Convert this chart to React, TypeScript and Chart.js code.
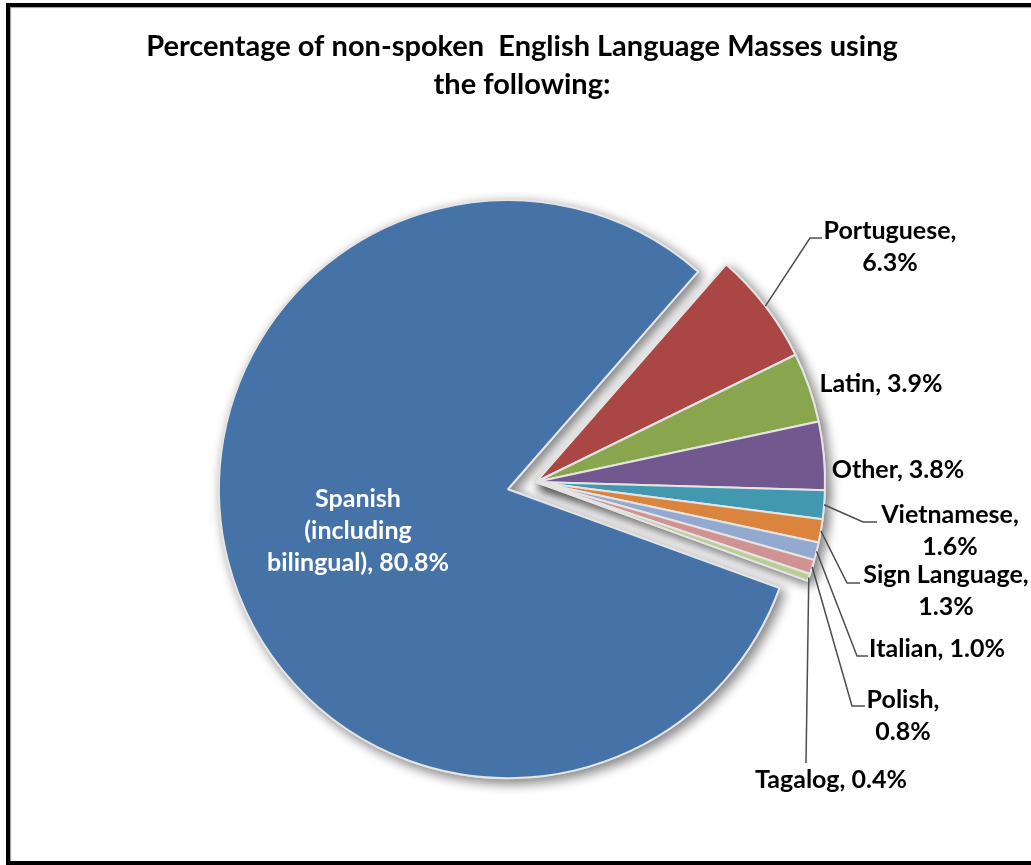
import React, { useEffect, useRef } from "react";
import { Chart, registerables } from "chart.js";

Chart.register(...registerables);

// Shares of each language (percent)
const categories = [
  "Spanish (including bilingual)",
  "Portuguese",
  "Latin",
  "Other",
  "Vietnamese",
  "Sign Language",
  "Italian",
  "Polish",
  "Tagalog",
];
const shares = [80.8, 6.3, 3.9, 3.8, 1.6, 1.3, 1.0, 0.8, 0.4];
const sliceColors = [
  "#4572A7",
  "#AA4643",
  "#89A54E",
  "#71588F",
  "#4198AF",
  "#DB843D",
  "#93A9CF",
  "#D19392",
  "#B9CD96",
];
const titleLines = [
  "Percentage of non-spoken  English Language Masses using",
  "the following:",
];

const W = 1031;
const H = 865;
const FONT = "Lato, 'Open Sans', sans-serif";

// Label placement: words per line, text centre x, first baseline y,
// optional leader elbow and end point.
type LabelLayout = {
  words: number[];
  x: number;
  y: number;
  color: string;
  leader?: [number, number, number, number];
};
const labelLayout: LabelLayout[] = [
  { words: [1, 1, 2], x: 358, y: 507, color: "#ffffff" },
  { words: [1, 1], x: 890, y: 239, color: "#000", leader: [810, 238, 822, 238] },
  { words: [2], x: 881, y: 392, color: "#000" },
  { words: [2], x: 898, y: 478, color: "#000" },
  { words: [1, 1], x: 950, y: 523, color: "#000", leader: [863, 522, 877, 522] },
  { words: [2, 1], x: 946, y: 583, color: "#000", leader: [847, 583, 860, 583] },
  { words: [2], x: 937, y: 657, color: "#000", leader: [857, 656, 868, 656] },
  { words: [1, 1], x: 903, y: 708, color: "#000", leader: [852, 706, 865, 706] },
  { words: [2], x: 831, y: 788, color: "#000", leader: [806, 763, 806, 763] },
];

function labelLines(i: number): string[] {
  const words = `${categories[i]}, ${shares[i].toFixed(1)}%`.split(" ");
  const out: string[] = [];
  let k = 0;
  for (const n of labelLayout[i].words) {
    out.push(words.slice(k, k + n).join(" "));
    k += n;
  }
  if (k < words.length) out[out.length - 1] += " " + words.slice(k).join(" ");
  return out;
}

// Pull slices out along their bisector without enlarging them
const explodePlugin = {
  id: "explode",
  afterDatasetUpdate(chart: any, args: any, opts: any) {
    const dist: number[] = opts.distances || [];
    chart.getDatasetMeta(args.index).data.forEach((arc: any, i: number) => {
      const d = dist[i] || 0;
      if (!d) return;
      const mid = (arc.startAngle + arc.endAngle) / 2;
      arc.x += Math.cos(mid) * d;
      arc.y += Math.sin(mid) * d;
    });
  },
};

// Soft drop shadow under the whole pie
const shadowPlugin = {
  id: "pieShadow",
  beforeDatasetsDraw(chart: any) {
    const ctx = chart.ctx;
    const meta = chart.getDatasetMeta(0);
    ctx.save();
    ctx.shadowColor = "rgba(0,0,0,0.5)";
    ctx.shadowBlur = 12;
    ctx.shadowOffsetX = 4;
    ctx.shadowOffsetY = 4;
    meta.data.forEach((arc: any) => arc.draw(ctx));
    ctx.restore();
  },
};

// Title, data labels and leader lines
const labelPlugin = {
  id: "pieLabels",
  afterDatasetsDraw(chart: any) {
    const ctx = chart.ctx;
    const meta = chart.getDatasetMeta(0);
    ctx.save();
    ctx.textAlign = "center";
    ctx.textBaseline = "alphabetic";
    ctx.fillStyle = "#000";
    ctx.font = `bold 29px ${FONT}`;
    titleLines.forEach((t, i) => ctx.fillText(t, 522, 56 + i * 38));

    ctx.font = `bold 25px ${FONT}`;
    meta.data.forEach((arc: any, i: number) => {
      const lay = labelLayout[i];
      if (lay.leader) {
        const { x, y, startAngle, endAngle, outerRadius } = arc.getProps(
          ["x", "y", "startAngle", "endAngle", "outerRadius"],
          true
        );
        const mid = (startAngle + endAngle) / 2;
        const sx = x + Math.cos(mid) * outerRadius;
        const sy = y + Math.sin(mid) * outerRadius;
        ctx.beginPath();
        ctx.strokeStyle = "#4d4d4d";
        ctx.lineWidth = 1.5;
        ctx.moveTo(sx, sy);
        ctx.lineTo(lay.leader[0], lay.leader[1]);
        ctx.lineTo(lay.leader[2], lay.leader[3]);
        ctx.stroke();
      }
      ctx.fillStyle = lay.color;
      labelLines(i).forEach((line, j) => ctx.fillText(line, lay.x, lay.y + j * 32));
    });
    ctx.restore();
  },
};

export default function App() {
  const canvasRef = useRef<HTMLCanvasElement | null>(null);

  useEffect(() => {
    const canvas = canvasRef.current;
    if (!canvas) return;
    const chart = new Chart(canvas, {
      type: "pie",
      data: {
        labels: categories,
        datasets: [
          {
            data: shares,
            backgroundColor: sliceColors,
            borderColor: "#e4e4e4",
            borderWidth: 2,
          },
        ],
      },
      options: {
        responsive: false,
        animation: false,
        devicePixelRatio: 1,
        rotation: 110,
        radius: 289,
        layout: { padding: { left: 236, right: 195, top: 182, bottom: 83 } },
        plugins: {
          legend: { display: false },
          tooltip: { enabled: false },
          title: { display: false },
          explode: { distances: [29] },
        },
      } as any,
      plugins: [explodePlugin, shadowPlugin, labelPlugin],
    });
    return () => chart.destroy();
  }, []);

  return (
    <div
      style={{
        position: "fixed",
        inset: 0,
        overflow: "hidden",
        background: "#fff",
      }}
    >
      <div
        style={{
          position: "absolute",
          left: 6,
          top: 3,
          width: 1100,
          height: 862,
          boxSizing: "border-box",
          border: "4px solid #000",
          boxShadow: "inset 1px 1px 1px #9a9a9a",
        }}
      />
      <canvas
        ref={canvasRef}
        width={W}
        height={H}
        style={{ position: "absolute", left: 0, top: 0, width: W, height: H }}
      />
    </div>
  );
}
